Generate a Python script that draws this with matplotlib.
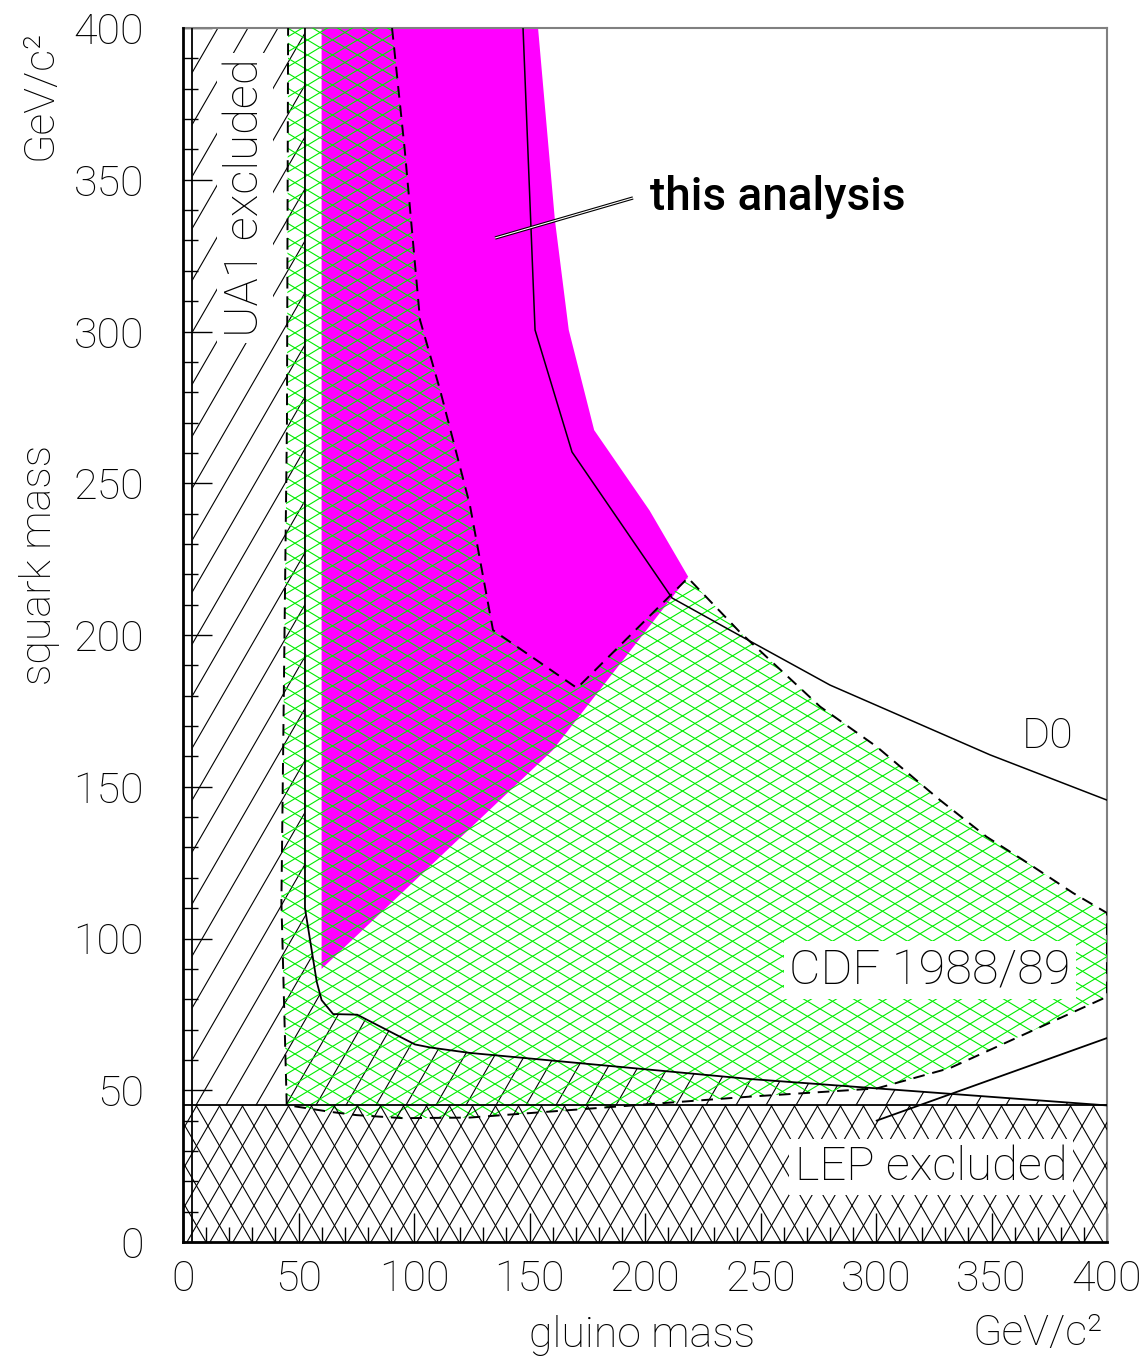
import numpy as np
import matplotlib.pyplot as plt
from matplotlib.patches import Polygon
from matplotlib.collections import LineCollection
from matplotlib.ticker import MultipleLocator

plt.rcParams['font.family'] = ['Roboto', 'DejaVu Sans']
plt.rcParams['font.weight'] = 'light'

# boundaries: (gluino mass, squark mass) in GeV/c^2
magenta_x = [60, 60, 160, 218.7, 202, 178, 167, 161, 153.7]
magenta_y = [400, 90, 162, 219.2, 241, 267.5, 300.5, 336.7, 400]

cdf_x = [90.5, 96, 102.6, 111.3, 124.2, 134.2, 170.6, 218.6, 241, 275.8, 300.3,
         327.7, 347.9, 363.6, 385.3, 400, 400, 332, 300.3, 245.5, 124.2, 95.2,
         75.2, 63.6, 44.9, 42.6, 45, 45.5]
cdf_y = [400, 359.8, 303.8, 280.7, 242.8, 201.6, 182.5, 218.8, 201, 176.4, 163.2,
         145.6, 133.5, 125.9, 115, 108.4, 80.8, 57.3, 50.6, 47.9, 41.0, 40.8,
         41.8, 42.9, 45.1, 112, 270, 400]

ua1_x = [52.8, 52.8, 57.9, 60, 65, 75.4, 100.4, 106.9, 124.2, 245.5, 400]
ua1_y = [400, 110, 85.7, 79.7, 75.1, 74.9, 65.1, 64.1, 62.3, 53.7, 45]
ua1_edge = 4

d0_x = [147.2, 152.4, 168.4, 211.7, 236.8, 280.1, 349.4, 400]
d0_y = [400, 300.5, 260.3, 212.2, 201.6, 183.5, 160.5, 145.6]

lep_y = 45
lep_ptr_x = [300.3, 400]
lep_ptr_y = [40.0, 67.2]
ana_ptr_x = [135.1, 194.8]
ana_ptr_y = [330.8, 344.0]

W, H = 1148, 1357
fig = plt.figure(figsize=(W / 100, H / 100), dpi=100)
ax = fig.add_axes([183 / W, 1 - 1242 / H, 924 / W, 1214 / H])
ax.set_xlim(0, 400)
ax.set_ylim(0, 400)
sx, sy = 924 / 400, 1214 / 400  # pixels per unit


def hatch(verts, angles, period, color, lw, z):
    clip = Polygon(verts, closed=True, transform=ax.transData)
    segs = []
    for a in angles:
        t = np.radians(a)
        d = np.array([np.cos(t), np.sin(t)])
        n = np.array([-np.sin(t), np.cos(t)])
        corners = np.array([[0, 0], [924, 0], [0, 1214], [924, 1214]])
        proj = corners @ n
        step = period * abs(np.sin(t))
        for c in np.arange(proj.min() - step, proj.max() + step, step):
            p0 = c * n - 2000 * d
            p1 = c * n + 2000 * d
            segs.append([(p0[0] / sx, p0[1] / sy), (p1[0] / sx, p1[1] / sy)])
    lc = LineCollection(segs, colors=color, linewidths=lw, zorder=z)
    ax.add_collection(lc)
    lc.set_clip_path(clip)


# this analysis
ax.fill(magenta_x, magenta_y, color='#ff00ff', lw=0, zorder=1)

# UA1 excluded
ua1_poly = [(ua1_edge, 400)] + list(zip(ua1_x, ua1_y)) + [(ua1_edge, lep_y)]
hatch(ua1_poly, [60], 30, 'black', 0.8, 2)

# CDF 1988/89
hatch(list(zip(cdf_x, cdf_y)), [31, -31], 25, '#00ee00', 0.8, 3)

# LEP excluded
lep_poly = [(0, 0), (400, 0), (400, lep_y), (0, lep_y)]
hatch(lep_poly, [60, -60], 23, 'black', 0.8, 4)

ax.plot(cdf_x, cdf_y, color='black', lw=1.4, ls=(0, (6, 4)), zorder=5)
ax.plot(ua1_x, ua1_y, color='black', lw=1.3, zorder=5)
ax.plot(d0_x, d0_y, color='black', lw=1.1, zorder=5)
ax.axhline(lep_y, color='black', lw=1.3, zorder=5)
ax.axvline(ua1_edge, color='black', lw=1.3, zorder=5)
ax.plot(lep_ptr_x, lep_ptr_y, color='black', lw=1.3, zorder=5)
ax.plot(ana_ptr_x, ana_ptr_y, color='black', lw=2.4, zorder=5,
        solid_capstyle='butt')
ax.plot(ana_ptr_x, ana_ptr_y, color='white', lw=0.8, zorder=5,
        solid_capstyle='butt')

box = dict(facecolor='white', edgecolor='none', pad=4)
ax.text(257.5, 344.3, 'this analysis', fontsize=33, ha='center', va='center',
        fontweight='medium', zorder=6)
ax.text(374.5, 166.7, 'D0', fontsize=31, ha='center', va='center', zorder=6)
ax.text(323.4, 89.6, 'CDF 1988/89', fontsize=35, ha='center', va='center',
        bbox=box, zorder=6)
ax.text(323.8, 24.7, 'LEP excluded', fontsize=34, ha='center', va='center',
        bbox=box, zorder=6)
ax.text(26.8, 344, 'UA1 excluded', fontsize=34, ha='center', va='center',
        rotation=90, bbox=box, zorder=6)

ax.xaxis.set_major_locator(MultipleLocator(50))
ax.xaxis.set_minor_locator(MultipleLocator(10))
ax.yaxis.set_major_locator(MultipleLocator(50))
ax.yaxis.set_minor_locator(MultipleLocator(10))
ax.tick_params(axis='both', which='both', direction='in', top=False,
               right=False, width=1, labelsize=31)
ax.tick_params(axis='both', which='major', length=21)
ax.tick_params(axis='both', which='minor', length=11)
ax.tick_params(axis='y', pad=28)
ax.tick_params(axis='x', pad=12)

for s in ['left', 'bottom']:
    ax.spines[s].set_linewidth(2)
    ax.spines[s].set_zorder(7)
for s in ['top', 'right']:
    ax.spines[s].set_linewidth(1.5)
    ax.spines[s].set_color('0.5')

fig.text(40 / W, 1 - 565 / H, 'squark mass', fontsize=31, rotation=90,
         ha='center', va='center')
fig.text(40 / W, 1 - 95 / H, 'GeV/c²', fontsize=31, rotation=90,
         ha='center', va='center')
fig.text(642 / W, 1 - 1335 / H, 'gluino mass', fontsize=31,
         ha='center', va='center')
fig.text(1038 / W, 1 - 1333 / H, 'GeV/c²', fontsize=31,
         ha='center', va='center')

fig.savefig('out.png', dpi=100)
